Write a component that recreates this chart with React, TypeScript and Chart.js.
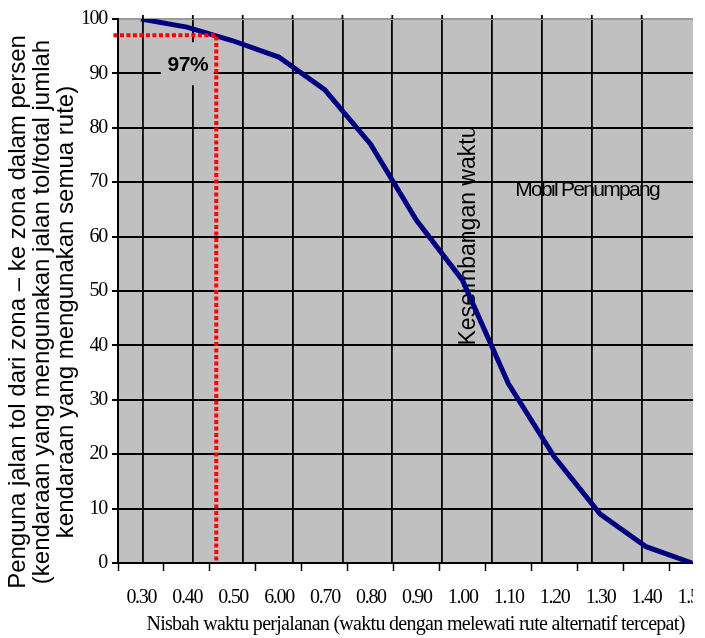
import React, { useEffect, useRef } from 'react';
import { Chart, registerables } from 'chart.js';

Chart.register(...registerables);

// ---- data ----
const RATIO = [0.3, 0.4, 0.5, 0.6, 0.7, 0.8, 0.9, 1.0, 1.1, 1.2, 1.3, 1.4, 1.5];
const SHARE = [100, 98.5, 96, 93, 87, 77, 63, 52, 33, 19.5, 9, 3, 0];
const X_TICK_LABELS = ['0.30', '0.40', '0.50', '6.00', '0.70', '0.80', '0.90', '1.00', '1.10', '1.20', '1.30', '1.40', '1.50'];
const Y_TICKS = [0, 10, 20, 30, 40, 50, 60, 70, 80, 90, 100];
const REF_RATIO = 0.464;
const REF_SHARE = 97;
const REF_LABEL = '97%';
const Y_TITLE = [
  'Penguna jalan tol dari zona – ke zona dalam persen',
  '(kendaraan yang mengunakan jalan tol/total jumlah',
  'kendaraan yang mengunakan semua rute)',
];
const X_TITLE = 'Nisbah waktu perjalanan (waktu dengan melewati rute alternatif tercepat)';
const NOTE_VERTICAL = 'Keseimbangan waktu';
const NOTE_SERIES = 'Mobil Penumpang';

const SERIF = '"Liberation Serif", "Times New Roman", serif';
const SANS = '"Liberation Sans", Arial, sans-serif';

const X_MIN = RATIO[0] - 0.05;
const X_MAX = RATIO[RATIO.length - 1] + 0.05;

const bgPlugin = {
  id: 'bgPlugin',
  beforeDraw(chart: any) {
    const { ctx, chartArea } = chart;
    ctx.save();
    ctx.fillStyle = '#C0C0C0';
    ctx.fillRect(chartArea.left, chartArea.top, chartArea.right - chartArea.left, chartArea.bottom - chartArea.top);
    ctx.restore();
    (ctx as any).letterSpacing = '-1.3px';
  },
  beforeDatasetsDraw(chart: any) {
    const { ctx } = chart;
    const xs = chart.scales.x;
    const ys = chart.scales.y;
    ctx.save();
    // 97% label with box
    const lx = xs.getPixelForValue(0.402);
    const ly = ys.getPixelForValue(91.5);
    ctx.fillStyle = '#C0C0C0';
    ctx.fillRect(lx - 27, ly - 23, 53, 43);
    (ctx as any).letterSpacing = '-0.5px';
    ctx.fillStyle = '#000';
    ctx.font = `bold 21px ${SANS}`;
    ctx.textAlign = 'center';
    ctx.textBaseline = 'middle';
    ctx.fillText(REF_LABEL, lx, ly);

    // vertical note
    (ctx as any).letterSpacing = '0px';
    ctx.save();
    ctx.translate(xs.getPixelForValue(1.027), ys.getPixelForValue(60.2));
    ctx.rotate(-Math.PI / 2);
    ctx.font = `23px ${SANS}`;
    ctx.textAlign = 'center';
    ctx.textBaseline = 'alphabetic';
    ctx.fillText(NOTE_VERTICAL, 0, 0);
    ctx.restore();

    // series note
    (ctx as any).letterSpacing = '-1.7px';
    ctx.font = `21px ${SANS}`;
    ctx.textAlign = 'left';
    ctx.textBaseline = 'alphabetic';
    ctx.fillText(NOTE_SERIES, xs.getPixelForValue(1.115), ys.getPixelForValue(67.5));
    ctx.restore();

    // vertical grid stubs above the plot top
    const xg = chart.scales.xg;
    ctx.save();
    ctx.strokeStyle = '#000';
    ctx.lineWidth = 1.8;
    xg.ticks.forEach((t: any) => {
      const px = xg.getPixelForValue(t.value);
      ctx.beginPath();
      ctx.moveTo(px, chart.chartArea.top - 4);
      ctx.lineTo(px, chart.chartArea.top);
      ctx.stroke();
    });
    ctx.restore();
  },
  afterDraw(chart: any) {
    const { ctx } = chart;
    ctx.save();
    // y title (three rotated lines)
    (ctx as any).letterSpacing = '0px';
    ctx.fillStyle = '#000';
    ctx.font = `24px ${SANS}`;
    ctx.textAlign = 'center';
    ctx.textBaseline = 'alphabetic';
    const baselines = [25, 49, 73];
    Y_TITLE.forEach((line, i) => {
      ctx.save();
      ctx.translate(baselines[i], 312);
      ctx.rotate(-Math.PI / 2);
      ctx.fillText(line, 0, 0);
      ctx.restore();
    });
    // x title
    (ctx as any).letterSpacing = '-0.7px';
    ctx.font = `20px ${SERIF}`;
    ctx.textAlign = 'center';
    ctx.textBaseline = 'alphabetic';
    const xs = chart.scales.x;
    ctx.fillText(X_TITLE, (xs.left + xs.right) / 2 - 1, 630);
    ctx.restore();
    (ctx as any).letterSpacing = '0px';
  },
};

export default function App() {
  const ref = useRef<HTMLCanvasElement>(null);
  useEffect(() => {
    const chart = new Chart(ref.current as HTMLCanvasElement, {
      type: 'line',
      data: {
        datasets: [
          {
            data: [
              { x: X_MIN - 0.01, y: REF_SHARE },
              { x: REF_RATIO, y: REF_SHARE },
              { x: REF_RATIO, y: 0 },
            ],
            borderColor: '#FF0000',
            borderWidth: 4,
            borderDash: [4, 2.5],
            pointRadius: 0,
            clip: false as any,
            xAxisID: 'x',
          },
          {
            data: RATIO.map((r, i) => ({ x: r, y: SHARE[i] })),
            borderColor: '#000080',
            borderWidth: 5,
            pointRadius: 0,
            tension: 0,
            xAxisID: 'x',
          },
        ],
      },
      options: {
        animation: false,
        responsive: false,
        events: [],
        layout: { padding: { top: 19, right: 5, left: 0, bottom: 0 } },
        plugins: { legend: { display: false }, tooltip: { enabled: false } },
        scales: {
          x: {
            type: 'linear',
            position: 'bottom',
            min: X_MIN,
            max: X_MAX,
            afterBuildTicks: (s: any) => {
              const t = RATIO.map((r) => ({ value: r - 0.05 }));
              t.push({ value: X_MAX });
              s.ticks = t;
            },
            afterFit: (s: any) => {
              s.height = 75;
            },
            grid: {
              drawOnChartArea: false,
              drawTicks: true,
              tickLength: 8,
              tickColor: '#000',
              tickWidth: 1.5,
            },
            border: { color: '#000', width: 2 },
            ticks: {
              autoSkip: false,
              maxRotation: 0,
              minRotation: 0,
              padding: 15,
              labelOffset: 23.3,
              color: '#000',
              font: { family: SERIF, size: 20 },
              callback: (_v: any, i: number) => X_TICK_LABELS[i] ?? '',
            },
            title: { display: false },
          },
          xg: {
            type: 'linear',
            position: 'top',
            min: -0.5,
            max: 11.47,
            afterBuildTicks: (s: any) => {
              const t: any[] = [];
              for (let k = 0; k <= 10; k++) t.push({ value: k });
              s.ticks = t;
            },
            afterFit: (s: any) => {
              s.height = 0;
            },
            grid: { color: '#000', lineWidth: 1.8, drawTicks: false },
            border: { display: false },
            ticks: { display: false },
          },
          y: {
            type: 'linear',
            min: 0,
            max: 100,
            afterBuildTicks: (s: any) => {
              s.ticks = Y_TICKS.map((v) => ({ value: v }));
            },
            afterFit: (s: any) => {
              s.width = 118;
            },
            grid: {
              color: (c: any) => (c.tick && c.tick.value === 100 ? '#9a9a9a' : '#000'),
              lineWidth: 2,
              tickLength: 6,
              tickColor: '#000',
            },
            border: { color: '#000', width: 2 },
            ticks: {
              padding: 5,
              color: '#000',
              font: { family: SERIF, size: 20 },
            },
          },
        },
      },
      plugins: [bgPlugin],
    } as any);
    return () => chart.destroy();
  }, []);

  return (
    <div
      style={{
        position: 'absolute',
        left: 0,
        top: 0,
        width: 693,
        height: 638,
        overflow: 'hidden',
        background: '#fff',
      }}
    >
      <canvas ref={ref} width={730} height={638} style={{ display: 'block', width: 730, height: 638 }} />
    </div>
  );
}
